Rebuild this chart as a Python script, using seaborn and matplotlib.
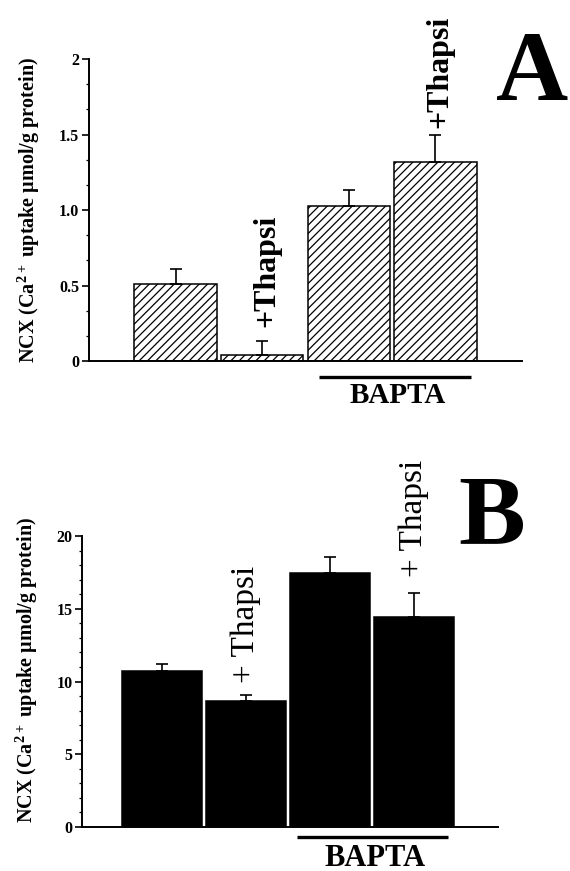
import matplotlib
matplotlib.use("Agg")
import matplotlib.pyplot as plt
import matplotlib.transforms as mtransforms
from matplotlib.ticker import MultipleLocator, FixedLocator
import seaborn as sns
import pandas as pd

# ---- data -------------------------------------------------------------
groups = ["Control", "Thapsi", "BAPTA", "BAPTA+Thapsi"]

a_values = [0.51, 0.04, 1.03, 1.32]
a_errors = [0.10, 0.09, 0.10, 0.18]
a_ticks = [0, 0.5, 1.0, 1.5, 2]
a_ticklabels = ["0", "0.5", "1.0", "1.5", "2"]

b_values = [10.74, 8.66, 17.43, 14.46]
b_errors = [0.46, 0.39, 1.15, 1.64]
b_ticks = [0, 5, 10, 15, 20]
b_ticklabels = ["0", "5", "10", "15", "20"]

ylabel = r"NCX (Ca$^{\mathbf{2+}}$ uptake µmol/g protein)"

# ---- style ------------------------------------------------------------
sns.set_theme(style="ticks")
plt.rcParams["font.family"] = ["Liberation Serif", "DejaVu Serif"]
plt.rcParams["font.weight"] = "bold"
plt.rcParams["mathtext.fontset"] = "custom"
plt.rcParams["mathtext.rm"] = "Liberation Serif:bold"
plt.rcParams["mathtext.bf"] = "Liberation Serif:bold"
plt.rcParams["hatch.linewidth"] = 0.9
for key in ("text.color", "axes.labelcolor", "xtick.color", "ytick.color",
            "axes.edgecolor", "hatch.color"):
    plt.rcParams[key] = "black"

fig = plt.figure(figsize=(5.70, 8.71), dpi=100)
ax_a = fig.add_axes([0.156, 0.5855, 0.760, 0.3467])
ax_b = fig.add_axes([0.144, 0.0505, 0.730, 0.3341])


def draw_panel(ax, values, errors, color, hatch, width, ylim, xlim,
               ticks, ticklabels, minor):
    df = pd.DataFrame({"group": groups, "value": values})
    sns.barplot(data=df, x="group", y="value", order=groups, ax=ax,
                color=color, width=width, errorbar=None,
                edgecolor="black", linewidth=1.1, saturation=1)
    for p in ax.patches:
        p.set_facecolor(color)
        if hatch:
            p.set_hatch(hatch)
    ax.errorbar(range(len(values)), values,
                yerr=[[0] * len(values), errors], fmt="none",
                ecolor="black", elinewidth=1.2, capsize=4.5, capthick=1.2)
    ax.set_xlim(*xlim)
    ax.set_ylim(*ylim)
    ax.yaxis.set_major_locator(FixedLocator(ticks))
    ax.set_yticklabels(ticklabels, fontsize=11.5, fontweight="bold")
    ax.yaxis.set_minor_locator(MultipleLocator(minor))
    ax.tick_params(axis="y", which="major", direction="out", length=5,
                   width=1.2, pad=2)
    ax.tick_params(axis="y", which="minor", direction="out", length=2.5,
                   width=0.9)
    ax.tick_params(axis="x", bottom=False, labelbottom=False)
    ax.set_xlabel("")
    ax.set_ylabel("")
    for side in ("top", "right"):
        ax.spines[side].set_visible(False)
    for side in ("left", "bottom"):
        ax.spines[side].set_linewidth(1.4)
        ax.spines[side].set_color("black")


# Panel A: hatched bars
draw_panel(ax_a, a_values, a_errors, "white", "////", 0.95, (0, 2),
           (-1.0, 4.0), a_ticks, a_ticklabels, 0.5 / 3)
# Panel B: solid black bars
draw_panel(ax_b, b_values, b_errors, "black", None, 0.96, (0, 20),
           (-0.95, 4.0), b_ticks, b_ticklabels, 1)

ax_a.text(-0.171, 0.5, ylabel, transform=ax_a.transAxes, rotation=90,
          ha="left", va="center", fontsize=14.5, fontweight="bold")
ax_b.text(-0.166, 0.54, ylabel, transform=ax_b.transAxes, rotation=90,
          ha="left", va="center", fontsize=14.5, fontweight="bold")

# "+Thapsi" labels above the thapsigargin bars
for i, off in ((1, 14), (3, 7)):
    ax_a.annotate("+Thapsi", (i + 0.05, a_values[i] + a_errors[i]),
                  xytext=(0, off), textcoords="offset pixels",
                  rotation=90, ha="center", va="bottom",
                  fontsize=23, fontweight="bold")
for i, off in ((1, 12), (3, 16)):
    ax_b.annotate("+ Thapsi", (i, b_values[i] + b_errors[i]),
                  xytext=(0, off), textcoords="offset pixels",
                  rotation=90, ha="center", va="bottom",
                  fontsize=24, fontweight="normal")

# BAPTA bracket under the last two bars
for ax, (x0, x1), yl, xt, yt, fs in (
        (ax_a, (1.655, 3.414), -0.053, 2.57, -0.113, 21),
        (ax_b, (1.61, 3.40), -0.034, 2.54, -0.107, 22)):
    tr = mtransforms.blended_transform_factory(ax.transData, ax.transAxes)
    ax.plot([x0, x1], [yl, yl], transform=tr, color="black", lw=2.4,
            clip_on=False, solid_capstyle="butt")
    ax.text(xt, yt, "BAPTA", transform=tr, ha="center", va="center",
            fontsize=fs, fontweight="bold")

# panel letters
fig.text(532 / 570, 1 - 100 / 871, "A", ha="center", va="baseline",
         fontsize=72, fontweight="bold")
fig.text(492 / 570, 1 - 543 / 871, "B", ha="center", va="baseline",
         fontsize=72, fontweight="bold")

fig.savefig("out.png", dpi=100)
